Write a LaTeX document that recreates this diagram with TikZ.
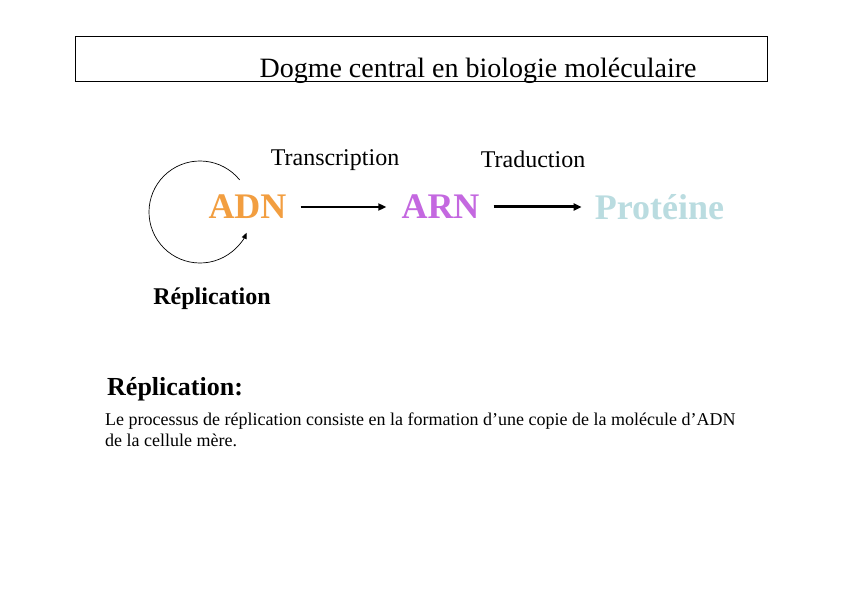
\documentclass[tikz,border=0pt]{standalone}
\usepackage{fontspec}
\setmainfont{Liberation Serif}
\usetikzlibrary{arrows.meta}
\definecolor{adncol}{RGB}{242,158,64}
\definecolor{arncol}{RGB}{196,104,224}
\definecolor{protcol}{RGB}{186,220,224}
\tikzset{
  big/.style={font=\fontsize{36}{40}\selectfont\bfseries, inner sep=0pt},
  lab/.style={font=\fontsize{24}{28}\selectfont, inner sep=0pt},
  flow/.style={-{Triangle[length=8pt,width=7pt]}},
}
\begin{document}
\begin{tikzpicture}[x=1pt,y=1pt]
\useasboundingbox (0,0) rectangle (842,595);
\fill[white] (0,0) rectangle (842,595);
% title box
\node[draw, line width=0.8pt, minimum width=692pt, minimum height=45pt, inner sep=0pt] (box) at (421,536) {};
\node[font=\fontsize{28}{32}\selectfont, inner sep=0pt] (title) at (478,524) {Dogme central en biologie moléculaire};
% labels
\node[lab] (transcr) at (335,435) {Transcription};
\node[lab] (trad) at (533,436) {Traduction};
% molecules
\node[big, text=adncol] (adn) at (247.5,388) {ADN};
\node[big, text=arncol] (arn) at (440.5,388) {ARN};
\node[big, text=protcol] (prot) at (659.5,388) {Protéine};
\draw[flow, line width=2pt, shorten <=14pt, shorten >=15pt] (adn.east) -- (arn.west);
\draw[flow, line width=3pt, shorten <=14pt, shorten >=13pt] (arn.east) -- (prot.west);
% replication loop
\coordinate (loopc) at (200,383);
\draw[line width=0.7pt, -{Triangle[length=6pt,width=5pt]}] ([shift={(39:51pt)}]loopc) arc[start angle=39, end angle=336, radius=51pt];
\node[font=\fontsize{24}{28}\selectfont\bfseries, inner sep=0pt] (repl) at (212,296) {Réplication};
% definition
\node[font=\fontsize{26}{30}\selectfont\bfseries, anchor=west, inner sep=0pt] (defhead) at (107,206) {Réplication:};
\node[font=\fontsize{18}{21}\selectfont, anchor=north west, align=left, inner sep=0pt] (deftext) at (105,182) {Le processus de réplication consiste en la formation d’une copie de la molécule d’ADN\\de la cellule mère.};
\end{tikzpicture}
\end{document}
